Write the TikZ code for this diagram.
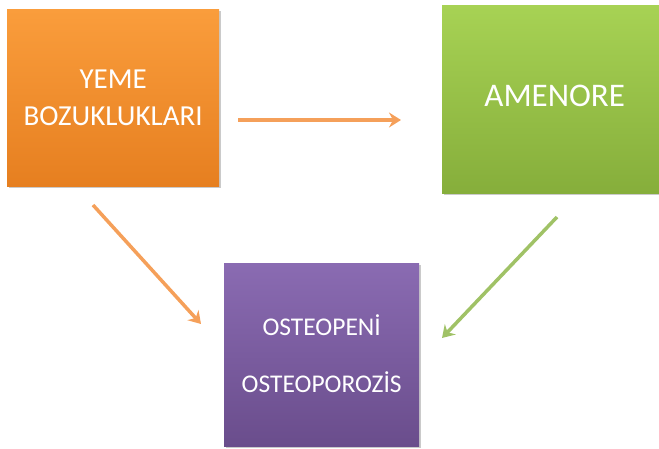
\documentclass[tikz,border=0pt]{standalone}
\usepackage{fontspec}
\setmainfont{Carlito}
\usetikzlibrary{arrows.meta,shadows}
\definecolor{orangeTop}{HTML}{FA9D3C}
\definecolor{orangeBot}{HTML}{E67F20}
\definecolor{greenTop}{HTML}{A7D254}
\definecolor{greenBot}{HTML}{86AE3B}
\definecolor{purpleTop}{HTML}{8A6BB2}
\definecolor{purpleBot}{HTML}{6A4D8C}
\definecolor{orangeLine}{HTML}{F5A05A}
\definecolor{greenLine}{HTML}{A0C266}
\tikzset{
  box/.style={rectangle, inner sep=0pt, text=white, align=center, anchor=north west,
    drop shadow={shadow xshift=1.5pt, shadow yshift=-2pt, opacity=0.35, fill=black!60}},
  link/.style={line width=3.5pt, -{Stealth[length=12pt,width=15pt,inset=4pt]}},
}
\begin{document}
\begin{tikzpicture}[x=1pt,y=-1pt]
  \useasboundingbox (0,0) rectangle (659,448);
  % three boxes
  \node[box, minimum width=212pt, minimum height=177pt,
        top color=orangeTop, bottom color=orangeBot, font=\fontsize{29}{37}\selectfont]
        (eat) at (7,9) {YEME\\BOZUKLUKLARI};
  \node[box, minimum width=225pt, minimum height=188pt,
        top color=greenTop, bottom color=greenBot, font=\fontsize{33}{40}\selectfont]
        (amen) at (442,5) {\raisebox{6pt}{AMENORE}};
  \node[box, minimum width=195pt, minimum height=183pt,
        top color=purpleTop, bottom color=purpleBot, font=\fontsize{25.5}{57}\selectfont]
        (osteo) at (224,263) {\raisebox{2pt}{OSTEOPENİ}\\\raisebox{2pt}{OSTEOPOROZİS}};
  % connectors
  \coordinate (a1) at (238,120);
  \coordinate (a2) at (401,120);
  \coordinate (b1) at (93,205);
  \coordinate (b2) at (201,324);
  \coordinate (c1) at (557,217);
  \coordinate (c2) at (442,338);
  \draw[link, orangeLine] (a1) -- (a2);
  \draw[link, orangeLine] (b1) -- (b2);
  \draw[link, greenLine] (c1) -- (c2);
\end{tikzpicture}
\end{document}
